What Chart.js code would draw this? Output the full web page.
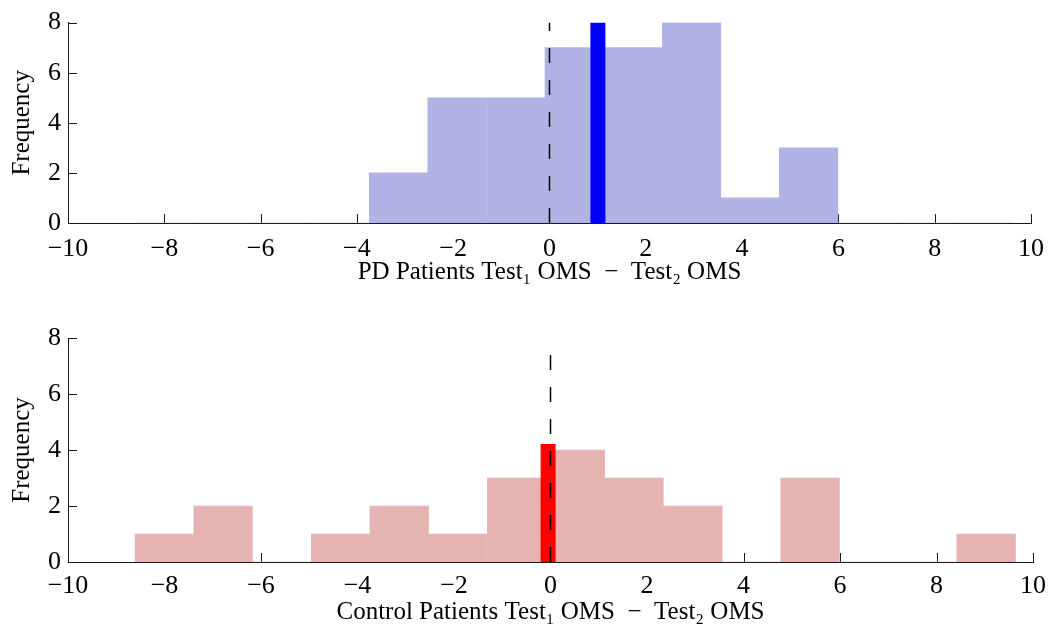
<!DOCTYPE html>
<html lang="en">
<head>
    <meta charset="UTF-8">
    <title>OMS difference histograms</title>
    <script src="https://cdn.jsdelivr.net/npm/chart.js"></script>
    <style>
        body { margin: 0; background: #fff; }
        #wrap { position: relative; width: 1055px; height: 633px; }
        canvas { display: block; }
    </style>
</head>
<body>
<div id="wrap">
    <canvas id="pdChart" width="1055" height="300"></canvas>
    <canvas id="ctrlChart" width="1055" height="333"></canvas>
</div>

<script>
    // bin edges shared by both histograms (Test1 OMS - Test2 OMS)
    const binEdges = [-8.61, -7.39, -6.18, -4.96, -3.74, -2.53, -1.31, -0.09,
                      1.12, 2.34, 3.56, 4.77, 5.99, 7.21, 8.42, 9.64];
    const pdCounts   = [0, 0, 0, 0, 2, 5, 5, 7, 7, 8, 1, 3, 0, 0, 0];
    const ctrlCounts = [1, 2, 0, 1, 2, 1, 3, 4, 3, 2, 0, 3, 0, 0, 1];

    // mean difference markers: [x, height]
    const pdMean   = [1.005, 8];
    const ctrlMean = [-0.05, 4.21];

    // reference line at zero
    const zeroLineX = 0;
    const yRange = [0, 8];
    const xRange = [-10, 10];

    const axisColor = '#1a1a1a';
    Chart.defaults.font.family = '"Liberation Serif", "Times New Roman", serif';
    Chart.defaults.color = '#000';

    // MATLAB style ticks pointing into the axes, drawn under the bars
    const innerTicks = {
        id: 'innerTicks',
        beforeDatasetsDraw(chart) {
            const { ctx, chartArea, scales: { x, y } } = chart;
            ctx.save();
            ctx.strokeStyle = axisColor;
            ctx.lineWidth = 1;
            ctx.beginPath();
            x.ticks.forEach(t => {
                const px = Math.round(x.getPixelForValue(t.value)) + 0.5;
                ctx.moveTo(px, chartArea.bottom);
                ctx.lineTo(px, chartArea.bottom - 9);
            });
            y.ticks.forEach(t => {
                const py = Math.round(y.getPixelForValue(t.value)) + 0.5;
                ctx.moveTo(chartArea.left, py);
                ctx.lineTo(chartArea.left + 9, py);
            });
            ctx.stroke();
            ctx.restore();
        }
    };

    function makeChart(id, counts, fill, mean, meanColor, title, lay) {
        const bars = counts.map((c, i) => ({ x: (binEdges[i] + binEdges[i + 1]) / 2, y: c }));
        return new Chart(document.getElementById(id), {
            type: 'bar',
            data: {
                datasets: [
                    {
                        type: 'line',
                        data: [{ x: zeroLineX, y: yRange[0] }, { x: zeroLineX, y: yRange[1] }],
                        borderColor: '#000',
                        borderWidth: 1.5,
                        borderDash: [15, 17],
                        pointRadius: 0,
                        order: 0
                    },
                    {
                        type: 'line',
                        data: [{ x: mean[0], y: 0 }, { x: mean[0], y: mean[1] }],
                        borderColor: meanColor,
                        borderWidth: 15,
                        borderCapStyle: 'butt',
                        pointRadius: 0,
                        order: 1
                    },
                    {
                        data: bars,
                        backgroundColor: fill,
                        borderWidth: 0,
                        categoryPercentage: 1,
                        barPercentage: 1,
                        order: 2
                    }
                ]
            },
            options: {
                responsive: false,
                animation: false,
                layout: { padding: { top: lay.top, right: 19, left: 0, bottom: 0 } },
                plugins: { legend: { display: false }, tooltip: { enabled: false } },
                scales: {
                    x: {
                        type: 'linear',
                        min: xRange[0], max: xRange[1],
                        offset: false,
                        grid: { display: false, drawTicks: false, offset: false },
                        border: { display: true, color: axisColor, width: 1, z: 1 },
                        ticks: {
                            stepSize: 2,
                            padding: lay.tickPad,
                            maxRotation: 0,
                            font: { size: 26 },
                            callback: v => v < 0 ? '\u2212' + Math.abs(v) : String(v)
                        },
                        title: {
                            display: true,
                            text: title,
                            font: { size: 25 },
                            padding: { top: 0, bottom: lay.titlePad }
                        },
                        afterFit: s => { s.height = lay.xHeight; }
                    },
                    y: {
                        min: yRange[0], max: yRange[1],
                        grid: { display: false, drawTicks: false },
                        border: { display: true, color: axisColor, width: 1, z: 1 },
                        ticks: { stepSize: 2, padding: 7, font: { size: 26 } },
                        title: {
                            display: true,
                            text: 'Frequency',
                            font: { size: 25 },
                            padding: { top: 7, bottom: 0 }
                        },
                        afterFit: s => { s.width = 68; }
                    }
                }
            },
            plugins: [innerTicks]
        });
    }

    makeChart('pdChart', pdCounts, '#b1b2e5', pdMean, '#0000ff',
        'PD Patients Test\u2081 OMS  \u2212  Test\u2082 OMS',
        { top: 15, xHeight: 77, tickPad: 11, titlePad: 13 });

    makeChart('ctrlChart', ctrlCounts, '#e6b3b3', ctrlMean, '#ff0000',
        'Control Patients Test\u2081 OMS  \u2212  Test\u2082 OMS',
        { top: 38, xHeight: 71, tickPad: 9, titlePad: 6 });
</script>
</body>
</html>
